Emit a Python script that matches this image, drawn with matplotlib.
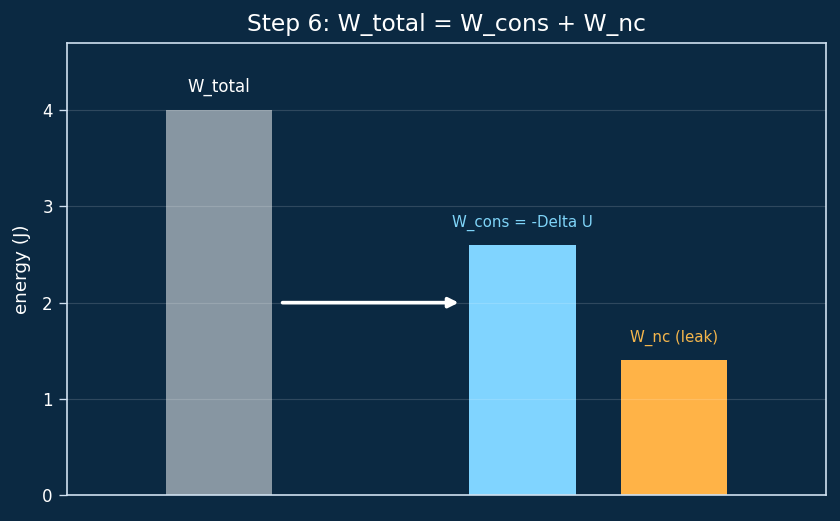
import matplotlib
matplotlib.use("Agg")
import matplotlib.pyplot as plt

categories = ["W_total", "W_cons = -Delta U", "W_nc (leak)"]
positions = [0, 2, 3]
values = [4.0, 2.6, 1.4]
bar_colors = ["#8796a2", "#80d4ff", "#ffb347"]
label_colors = ["#ffffff", "#7fd4f8", "#f5b64c"]
label_sizes = [10, 9, 9]

bg = "#0b2942"
edge = "#cfe0f0"

fig = plt.figure(figsize=(7.0, 521/120), dpi=120, facecolor=bg)
ax = fig.add_axes([67/840, 1-495/521, (826-67)/840, (495-43)/521])
ax.set_facecolor(bg)

ax.bar(positions, values, width=0.7, color=bar_colors, zorder=1)
for x, v, lab, c, fs in zip(positions, values, categories, label_colors, label_sizes):
    ax.text(x, v + 0.15, lab, ha="center", va="bottom", color=c, fontsize=fs)

ax.annotate("", xy=(1.58, 2.0), xytext=(0.42, 2.0),
            arrowprops=dict(arrowstyle="-|>", color="white", lw=2.2,
                            mutation_scale=12, shrinkA=0, shrinkB=0), zorder=3)

ax.set_xlim(-1, 4)
ax.set_ylim(0, 4.7)
ax.set_xticks([])
ax.set_yticks([0, 1, 2, 3, 4])
ax.grid(axis="y", color="white", alpha=0.15, lw=0.7, zorder=2)
ax.set_axisbelow(False)
for s in ax.spines.values():
    s.set_color(edge)
    s.set_linewidth(1.0)
ax.tick_params(axis="y", colors=edge, labelcolor="white", labelsize=10, length=5)
ax.set_ylabel("energy (J)", color="white", fontsize=11, labelpad=6.5)
ax.set_title("Step 6: W_total = W_cons + W_nc", color="white", fontsize=14, pad=7)

fig.savefig("out.png", dpi=120, facecolor=bg)
